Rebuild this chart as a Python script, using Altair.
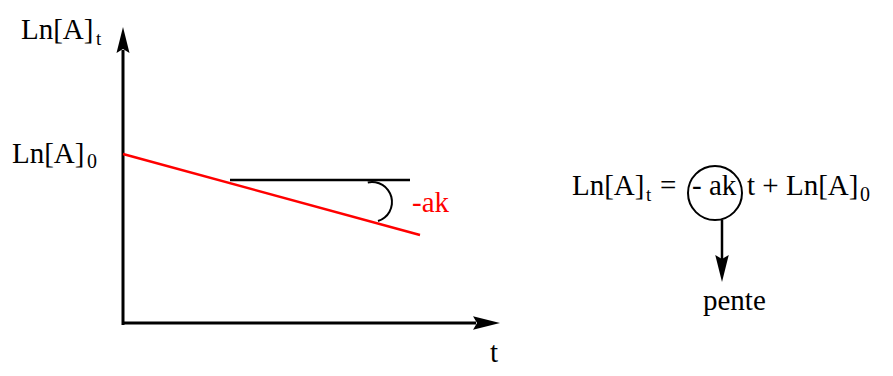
import altair as alt
import pandas as pd

# ---- diagram data (reference pixel coordinates) ----
seg_x1 = [123, 122, 123, 230, 722]
seg_y1 = [325, 323, 154, 180, 220]
seg_x2 = [123, 476, 420, 410, 722]
seg_y2 = [50, 323, 235, 180, 265]
seg_color = ["black", "black", "red", "black", "black"]
seg_width = [3, 3, 2.5, 2.5, 2.5]

head_x = [123, 486.5, 722]
head_y = [40, 323, 268.5]
head_angle = [0, 90, 180]
head_size = [676, 729, 729]

arc_center = [372, 202]
circle_center = [715, 193]

txt_label = ["Ln[A]", "t", "Ln[A]", "0", "-ak", "t",
             "Ln[A]", "t", "=", "- ak", "t + Ln[A]", "0", "pente"]
txt_x = [21, 96, 12, 87, 412, 490, 572, 646, 660, 692, 747, 860, 703]
txt_y = [39, 45, 163, 168, 212, 362, 195, 201, 195, 195, 195, 201, 310]
txt_size = [29, 19, 29, 20, 29, 29, 29, 19, 29, 29, 29, 20, 29]
txt_color = ["black", "black", "black", "black", "red", "black",
             "black", "black", "black", "black", "black", "black", "black"]

segs = pd.DataFrame({"x": seg_x1, "y": seg_y1, "x2": seg_x2, "y2": seg_y2,
                     "c": seg_color, "w": seg_width})
heads = pd.DataFrame({"x": head_x, "y": head_y, "a": head_angle, "s": head_size})
texts = pd.DataFrame({"t": txt_label, "x": txt_x, "y": txt_y,
                      "s": txt_size, "c": txt_color})
arcs = pd.DataFrame({"x": [arc_center[0]], "y": [arc_center[1]]})
circ = pd.DataFrame({"x": [circle_center[0]], "y": [circle_center[1]]})

xs = alt.Scale(domain=[8, 885], range=[0, 877], nice=False, zero=False)
ys = alt.Scale(domain=[8, 368], range=[0, 360], nice=False, zero=False)
X = lambda f="x": alt.X(f"{f}:Q", scale=xs, axis=None)
Y = lambda f="y": alt.Y(f"{f}:Q", scale=ys, axis=None)

rules = alt.Chart(segs).mark_rule(strokeCap="butt").encode(
    x=X(), y=Y(), x2="x2:Q", y2="y2:Q",
    color=alt.Color("c:N", scale=None),
    size=alt.Size("w:Q", scale=None),
)

arrow_shape = "M0,-1L0.5,1L0,0.7L-0.5,1Z"
head_layer = alt.Chart(heads).mark_point(
    shape=arrow_shape, filled=True, color="black", opacity=1, strokeWidth=0
).encode(
    x=X(), y=Y(),
    angle=alt.Angle("a:Q", scale=None),
    size=alt.Size("s:Q", scale=None),
)

arc_layer = alt.Chart(arcs).mark_arc(
    radius=21, radius2=19, theta=6.07, theta2=9.12, color="black"
).encode(x=X(), y=Y())

circle_layer = alt.Chart(circ).mark_point(
    shape="circle", filled=False, stroke="black", strokeWidth=2,
    size=2916, opacity=1
).encode(x=X(), y=Y())

text_layer = alt.Chart(texts).mark_text(
    align="left", baseline="alphabetic", font="Liberation Serif"
).encode(
    x=X(), y=Y(), text="t:N",
    size=alt.Size("s:Q", scale=None),
    color=alt.Color("c:N", scale=None),
)

chart = alt.layer(rules, arc_layer, circle_layer, head_layer, text_layer).properties(
    width=877, height=360, padding=0, autosize="none"
).configure_view(stroke=None)

chart.save("out.html", embed_options={"renderer": "svg", "actions": False})
